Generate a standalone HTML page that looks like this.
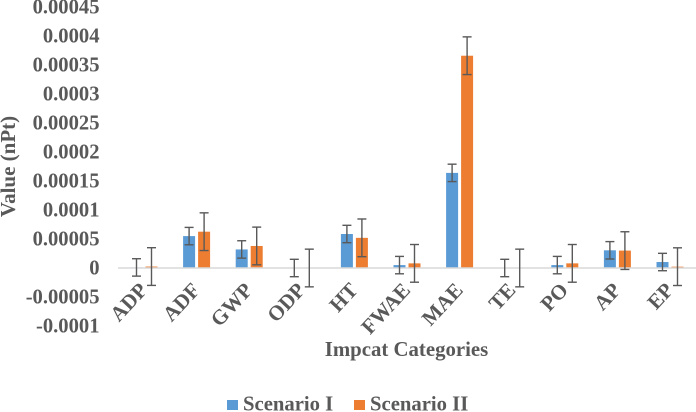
<!DOCTYPE html>
<html>
<head>
<meta charset="utf-8">
<style>
html,body{margin:0;padding:0;background:#fff;width:696px;height:412px;overflow:hidden}
svg{display:block;font-family:"Liberation Serif",serif;font-weight:bold;fill:#595959}
</style>
</head>
<body>
<svg id="chart" width="696" height="412" viewBox="0 0 696 412">
<g id="plot" style="filter:blur(0.35px)"></g>
<g style="filter:blur(0.35px)">
<text x="15" y="166.5" font-size="21" text-anchor="middle" transform="rotate(-90 15 166.5)">Value (nPt)</text>
<text x="406.5" y="356" font-size="20.8" text-anchor="middle">Impcat Categories</text>
<rect x="227" y="400" width="11" height="10" fill="#5b9bd5"/>
<text x="243" y="410.5" font-size="20.7">Scenario I</text>
<rect x="354" y="400" width="11" height="10" fill="#ed7d31"/>
<text x="370" y="410.5" font-size="20.7">Scenario II</text>
</g>
</svg>
<script>
const categories = ["ADP","ADF","GWP","ODP","HT","FWAE","MAE","TE","PO","AP","EP"];
const scenarioOne = [0.000001,0.000055,0.000032,0,0.0000586,0.000005,0.000164,0,0.000005,0.0000305,0.0000103];
const scenarioTwo = [0.0000025,0.0000626,0.000038,0,0.000052,0.000008,0.000366,0,0.000008,0.00003,0.0000023];
const errorOne = [0.000015,0.000015,0.000015,0.000015,0.000015,0.000015,0.000015,0.000015,0.000015,0.000015,0.000015];
const errorTwo = [0.0000325,0.0000325,0.0000325,0.0000325,0.0000325,0.0000325,0.0000325,0.0000325,0.0000325,0.0000325,0.0000325];
const yTicks = [0.00045,0.0004,0.00035,0.0003,0.00025,0.0002,0.00015,0.0001,0.00005,0,-0.00005,-0.0001];
const yTickLabels = ["0.00045","0.0004","0.00035","0.0003","0.00025","0.0002","0.00015","0.0001","0.00005","0","-0.00005","-0.0001"];

const plot = document.getElementById('plot');
const NS = 'http://www.w3.org/2000/svg';
const yScale = v => 268 - v * 580000;
const xBand = i => 144 + i * 52.6;
function make(tag, attrs, parent) {
  const el = document.createElementNS(NS, tag);
  for (const k in attrs) el.setAttribute(k, attrs[k]);
  parent.appendChild(el);
  return el;
}
yTicks.forEach((t, i) => {
  const el = make('text', {x: 99.5, y: yScale(t) + 6.5, 'font-size': 20.6, 'text-anchor': 'end'}, plot);
  
  
  el.textContent = yTickLabels[i];
});
function drawBar(v, cx, color, name) {
  const top = Math.min(yScale(v), yScale(0));
  const h = Math.abs(yScale(v) - yScale(0));
  const bar = make('rect', {x: cx - 6, y: top, width: 12, height: h, fill: color}, plot);
  
  
}
function drawError(v, e, cx, name) {
  const y1 = yScale(v + e), y2 = yScale(v - e);
  const g = make('g', {stroke: '#595959', 'stroke-width': 1.4, fill: 'none'}, plot);
  
  
  make('line', {x1: cx, x2: cx, y1: y1, y2: y2}, g);
  make('line', {x1: cx - 4.5, x2: cx + 4.5, y1: y1, y2: y1}, g);
  make('line', {x1: cx - 4.5, x2: cx + 4.5, y1: y2, y2: y2}, g);
}
categories.forEach((c, i) => {
  const cx = xBand(i);
  drawBar(scenarioOne[i], cx - 7.5, '#5b9bd5', 'bar-scenario-1');
  drawBar(scenarioTwo[i], cx + 7.5, '#ed7d31', 'bar-scenario-2');
});
const axis = make('line', {x1: 118, x2: 696, y1: yScale(0), y2: yScale(0), stroke: '#d9d9d9', 'stroke-width': 1.5}, plot);


categories.forEach((c, i) => {
  const cx = xBand(i);
  drawError(scenarioOne[i], errorOne[i], cx - 7.5, 'error-bar-scenario-1');
  drawError(scenarioTwo[i], errorTwo[i], cx + 7.5, 'error-bar-scenario-2');
  const ax = cx + 4.5, ay = 291;
  const label = make('text', {x: ax, y: ay, 'font-size': 21, 'text-anchor': 'end', transform: 'rotate(-47 ' + ax + ' ' + ay + ')'}, plot);
  
  
  label.textContent = c;
});
</script>
</body>
</html>
